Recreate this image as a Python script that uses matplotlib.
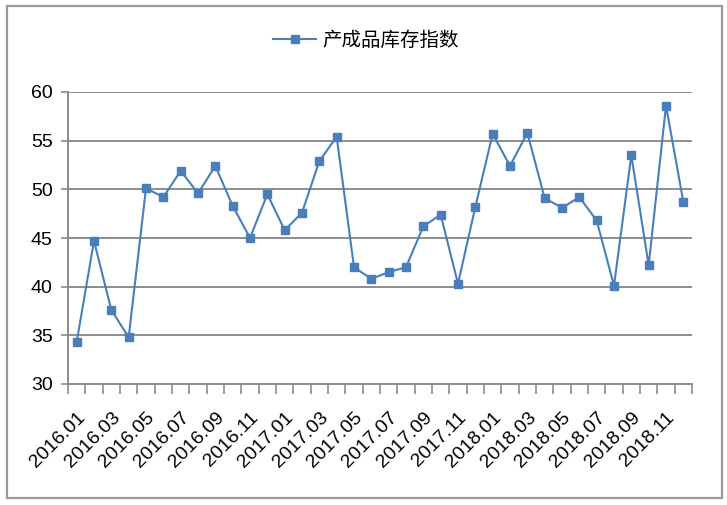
import matplotlib

matplotlib.use("Agg")
import matplotlib.pyplot as plt
from matplotlib.patches import Rectangle

# Data: 产成品库存指数, 2016.01 - 2018.12
months = [f"{y}.{m:02d}" for y in (2016, 2017, 2018) for m in range(1, 13)]
values = [
    34.3, 44.7, 37.6, 34.8, 50.1, 49.2, 51.9, 49.6, 52.4, 48.3, 45.0, 49.5,
    45.8, 47.6, 52.9, 55.4, 42.0, 40.8, 41.5, 42.0, 46.2, 47.4, 40.3, 48.2,
    55.7, 52.4, 55.8, 49.1, 48.1, 49.2, 46.8, 40.1, 53.5, 42.2, 58.6, 48.7,
]
series_name = "产成品库存指数"
y_ticks = [30, 35, 40, 45, 50, 55, 60]

plt.rcParams["font.family"] = ["Noto Sans CJK SC", "DejaVu Sans"]

W, H = 727, 505
fig = plt.figure(figsize=(W / 100, H / 100), dpi=100)
fig.patches.append(Rectangle((6.5 / W, 1 - 498 / H), 715 / W, 492 / H,
                             transform=fig.transFigure, fill=False,
                             edgecolor="#9a9a9a", linewidth=1.6))

ax = fig.add_axes([68 / W, 1 - 384 / H, (692 - 68) / W, (384 - 92) / H])
x = list(range(len(months)))
line, = ax.plot(x, values, color="#4a7ebb", linewidth=1.5, marker="s",
                markersize=6, markerfacecolor="#4a7ebb",
                markeredgecolor="#4a7ebb", label=series_name)

ax.set_xlim(-0.5, len(months) - 0.5)
ax.set_ylim(30, 60)
ax.set_yticks(y_ticks)
ax.set_yticklabels([str(t) for t in y_ticks], fontsize=14, family="Liberation Sans")
ax.yaxis.grid(True, color="#8c8c8c", linewidth=1.4)
ax.set_axisbelow(True)

# category boundaries as tick marks, labels every other month
ax.set_xticks([i - 0.5 for i in range(len(months) + 1)])
ax.set_xticklabels([])
ax.set_xticks(x[::2], minor=True)
ax.set_xticklabels(months[::2], minor=True, rotation=45, ha="right", va="top",
                   rotation_mode="anchor", fontsize=14, family="Liberation Sans")
ax.tick_params(axis="x", which="major", length=7, color="#8c8c8c", width=1.2)
ax.tick_params(axis="x", which="minor", length=0, pad=18)
ax.tick_params(axis="y", length=5, color="#8c8c8c", width=1.2, pad=6)

for side in ("top", "right"):
    ax.spines[side].set_visible(False)
for side in ("left", "bottom"):
    ax.spines[side].set_color("#8c8c8c")
    ax.spines[side].set_linewidth(1.4)

fig.legend(handles=[line], loc="center", bbox_to_anchor=(366 / W, 1 - 40 / H),
           frameon=False, fontsize=14, handlelength=2.2, handletextpad=0.3)

fig.savefig("out.png", dpi=100)
